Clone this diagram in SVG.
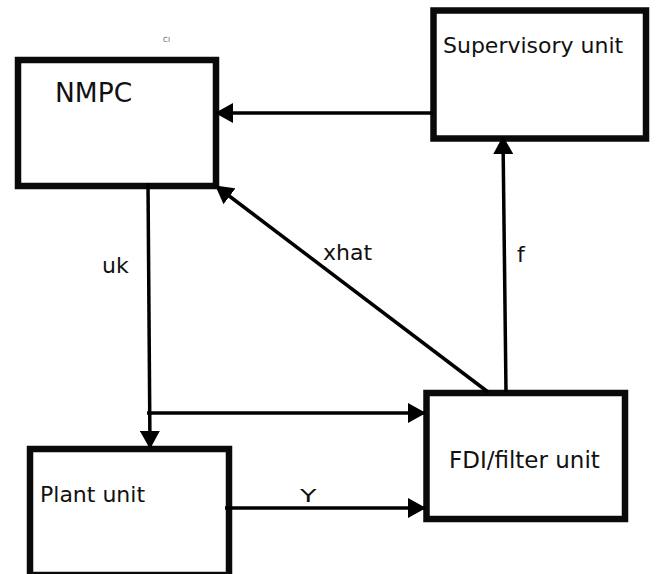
<svg xmlns="http://www.w3.org/2000/svg" width="656" height="574" viewBox="0 0 656 574">
  <defs>
    <marker id="arr" viewBox="0 0 18 20" refX="17" refY="10" markerWidth="18" markerHeight="20" markerUnits="userSpaceOnUse" orient="auto">
      <path d="M0,0 L18,10 L0,20 z" fill="#000"/>
    </marker>
    <style>
      .box { fill: #fff; stroke: #0a0a0a; stroke-width: 6.5; }
      .lbl { font-family: "DejaVu Sans", Verdana, sans-serif; font-size: 22px; fill: #111; }
      .conn line { stroke: #000; stroke-width: 3.5; marker-end: url(#arr); }
    </style>
  </defs>
  <rect width="656" height="574" fill="#fff"/>

  <text x="163" y="41.5" style="font-family:'DejaVu Sans',sans-serif;font-size:7px;fill:#666">CI</text>

  <g id="nmpc">
    <rect class="box" x="18" y="60" width="198" height="126"/>
    <text class="lbl" x="55" y="102" style="font-size:26.5px">NMPC</text>
  </g>
  <g id="supervisory">
    <rect class="box" x="433.5" y="10.5" width="212.5" height="128"/>
    <text class="lbl" x="443" y="53">Supervisory unit</text>
  </g>
  <g id="fdi">
    <rect class="box" x="426.5" y="393" width="198.5" height="126"/>
    <text class="lbl" x="449" y="468" style="font-size:23px">FDI/filter unit</text>
  </g>
  <g id="plant">
    <rect class="box" x="30" y="449" width="199" height="126"/>
    <text class="lbl" x="40" y="502">Plant unit</text>
  </g>

  <g id="connectors" class="conn">
    <line x1="433" y1="113" x2="216" y2="113"/>
    <line x1="148" y1="183" x2="150" y2="448"/>
    <line x1="147" y1="413" x2="425" y2="413"/>
    <line x1="225" y1="508" x2="425" y2="508"/>
    <line x1="506" y1="392" x2="503" y2="137"/>
    <line x1="488" y1="392" x2="216" y2="186"/>
  </g>

  <g id="labels">
    <text class="lbl" x="102" y="273">uk</text>
    <text class="lbl" x="323" y="260">xhat</text>
    <text class="lbl" x="517" y="262">f</text>
    <text class="lbl" transform="translate(300,502) scale(1.5,1)" x="0" y="0" style="font-size:18px">Y</text>
  </g>
</svg>
